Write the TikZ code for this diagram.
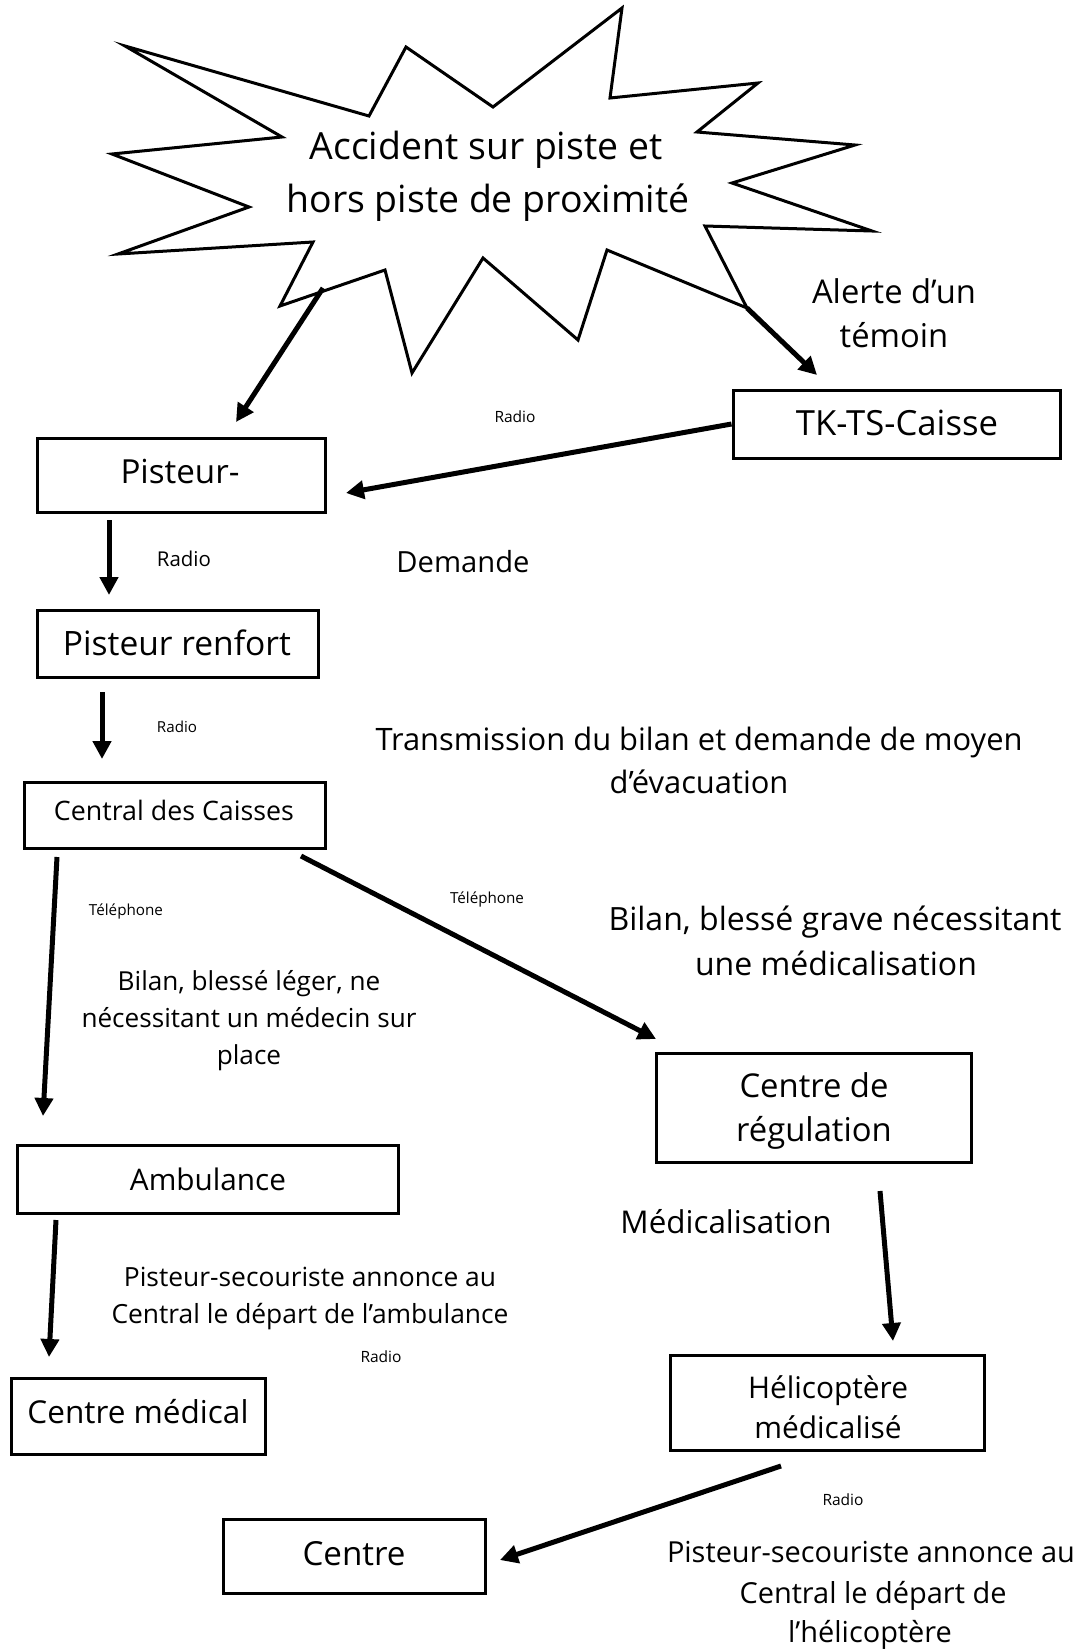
\documentclass[tikz,border=0pt]{standalone}
\usepackage{fontspec}
\setmainfont{Open Sans}
\usetikzlibrary{arrows.meta}
\newcommand{\tw}[2]{\resizebox{#1pt}{!}{#2}}
\newsavebox\gbox
\newlength\glen
\newcommand\setgrp[3]{\sbox\gbox{#3}\setlength\glen{\wd\gbox}\pgfmathsetmacro#1{#2/\glen}}
\begin{document}
\setgrp{\gstar}{403}{hors piste de proximité}%
\setgrp{\galert}{164}{Alerte d’un}%
\setgrp{\gtrans}{647}{Transmission du bilan et demande de moyen}%
\setgrp{\ggrave}{453}{Bilan, blessé grave nécessitant}%
\setgrp{\gleger}{335}{nécessitant un médecin sur}%
\setgrp{\greg}{149}{Centre de}%
\setgrp{\gheli}{160}{Hélicoptère}%
\setgrp{\gamb}{397}{Central le départ de l’ambulance}%
\setgrp{\ghel}{408}{Pisteur-secouriste annonce au}%
\begin{tikzpicture}[x=1pt,y=-1pt,
  box/.style={draw, line width=3pt, inner sep=0pt},
  arr/.style={line width=5pt, -{Triangle[length=18pt,width=18pt]}},
  lbl/.style={anchor=base, inner sep=0pt},
  starline/.style={line width=3pt, line join=miter, miter limit=20}]
\useasboundingbox (0,0) rectangle (1085,1649);
% star
\draw[starline] (125,46) -- (282,137) -- (112,154) -- (249,207) -- (118,254) -- (313,242)
  -- (280,306) -- (385,270) -- (412,373) -- (483,258) -- (578,340) -- (607,250)
  -- (747,308) -- (705,226) -- (872,231) -- (732,183) -- (855,145) -- (697,132)
  -- (758,83) -- (610,98) -- (622,8) -- (493,107) -- (406,47) -- (369,116) -- cycle;
\coordinate (s1) at (323,288);
\coordinate (s2) at (747,308);
\node[lbl] (t1) at (486,159) {\scalebox{\gstar}{Accident sur piste et}};
\node[lbl] (t2) at (488,212) {\scalebox{\gstar}{hors piste de proximité}};
% boxes
\node[box, minimum width=327pt, minimum height=68pt] (tk) at (896.5,424) {};
\node[box, minimum width=288pt, minimum height=74pt] (pist) at (181,475) {};
\node[box, minimum width=281pt, minimum height=67pt] (renf) at (177.5,643.5) {};
\node[box, minimum width=301pt, minimum height=66pt] (cent) at (174.5,815) {};
\node[box, minimum width=315pt, minimum height=109pt] (reg) at (813.5,1107.5) {};
\node[box, minimum width=381pt, minimum height=68pt] (amb) at (207.5,1179) {};
\node[box, minimum width=314pt, minimum height=95pt] (heli) at (827,1402.5) {};
\node[box, minimum width=254pt, minimum height=76pt] (med) at (138,1416) {};
\node[box, minimum width=262pt, minimum height=74pt] (ctr) at (354,1556) {};
% box texts
\node[lbl] (ttk) at (897,435) {\tw{202}{TK-TS-Caisse}};
\node[lbl] (tpist) at (180,483) {\tw{119}{Pisteur-}};
\node[lbl] (trenf) at (177,655) {\tw{228}{Pisteur renfort}};
\node[lbl] (tcent) at (174,820) {\tw{240}{Central des Caisses}};
\node[lbl] (treg1) at (814,1097) {\scalebox{\greg}{Centre de}};
\node[lbl] (treg2) at (814,1141) {\scalebox{\greg}{régulation}};
\node[lbl] (tamb) at (208,1190) {\tw{156}{Ambulance}};
\node[lbl] (theli1) at (828,1398) {\scalebox{\gheli}{Hélicoptère}};
\node[lbl] (theli2) at (828,1438) {\scalebox{\gheli}{médicalisé}};
\node[lbl] (tmed) at (138,1423) {\tw{221}{Centre médical}};
\node[lbl] (tctr) at (354,1565) {\tw{103}{Centre}};
% free labels
\node[lbl] (al1) at (894,303) {\scalebox{\galert}{Alerte d’un}};
\node[lbl] (al2) at (894,347) {\scalebox{\galert}{témoin}};
\node[lbl] (ra) at (515,422) {\tw{41}{Radio}};
\node[lbl] (rb) at (184,566) {\tw{54}{Radio}};
\node[lbl] (dem) at (463,572) {\tw{133}{Demande}};
\node[lbl] (rc) at (177,732) {\tw{40}{Radio}};
\node[lbl] (tr1) at (699,750) {\scalebox{\gtrans}{Transmission du bilan et demande de moyen}};
\node[lbl] (tr2) at (699,793) {\scalebox{\gtrans}{d’évacuation}};
\node[lbl] (tel1) at (126,915) {\tw{74}{Téléphone}};
\node[lbl] (tel2) at (487,903) {\tw{74}{Téléphone}};
\node[lbl] (bg1) at (835,930) {\scalebox{\ggrave}{Bilan, blessé grave nécessitant}};
\node[lbl] (bg2) at (836,975) {\scalebox{\ggrave}{une médicalisation}};
\node[lbl] (bl1) at (249,990) {\scalebox{\gleger}{Bilan, blessé léger, ne}};
\node[lbl] (bl2) at (249,1027) {\scalebox{\gleger}{nécessitant un médecin sur}};
\node[lbl] (bl3) at (249,1064) {\scalebox{\gleger}{place}};
\node[lbl] (medi) at (726,1233) {\tw{211}{Médicalisation}};
\node[lbl] (pa1) at (310,1286) {\scalebox{\gamb}{Pisteur-secouriste annonce au}};
\node[lbl] (pa2) at (310,1323) {\scalebox{\gamb}{Central le départ de l’ambulance}};
\node[lbl] (rd) at (381,1362) {\tw{41}{Radio}};
\node[lbl] (re) at (843,1505) {\tw{41}{Radio}};
\node[lbl] (ph1) at (871,1562) {\scalebox{\ghel}{Pisteur-secouriste annonce au}};
\node[lbl] (ph2) at (873,1603) {\scalebox{\ghel}{Central le départ de}};
\node[lbl] (ph3) at (870,1642) {\scalebox{\ghel}{l’hélicoptère}};
% arrow end points
\coordinate (e1) at (236,422);
\coordinate (e2) at (817,375);
\coordinate (e3) at (346,493);
\coordinate (b4) at (109,520); \coordinate (e4) at (109,595);
\coordinate (b5) at (102,692); \coordinate (e5) at (102,759);
\coordinate (b6) at (57,857);  \coordinate (e6) at (43,1116);
\coordinate (b7) at (301,856); \coordinate (e7) at (656,1039);
\coordinate (b8) at (880,1191); \coordinate (e8) at (893,1341);
\coordinate (b9) at (56,1220); \coordinate (e9) at (49,1357);
\coordinate (b10) at (781,1466); \coordinate (e10) at (500,1560);
% arrows
\draw[arr] (s1) -- (e1);
\draw[arr] (s2) -- (e2);
\draw[arr] (tk.west) -- (e3);
\draw[arr] (b4) -- (e4);
\draw[arr] (b5) -- (e5);
\draw[arr] (b6) -- (e6);
\draw[arr] (b7) -- (e7);
\draw[arr] (b8) -- (e8);
\draw[arr] (b9) -- (e9);
\draw[arr] (b10) -- (e10);
\end{tikzpicture}
\end{document}
